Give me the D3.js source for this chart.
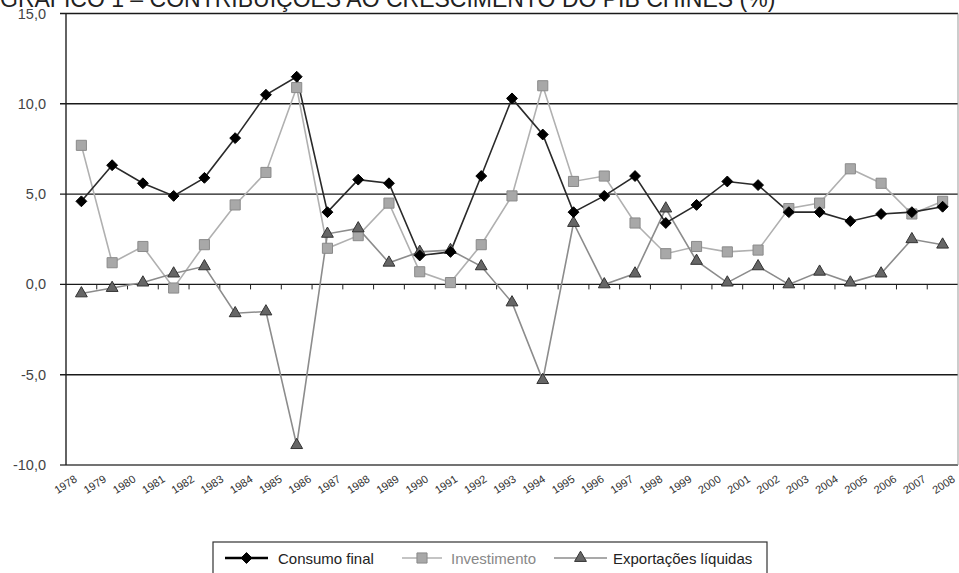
<!DOCTYPE html>
<html>
<head>
<meta charset="utf-8">
<script src="https://cdn.jsdelivr.net/npm/d3@7"></script>
<style>
  body { margin: 0; background: #fff; }
  svg { font-family: "Liberation Sans", Arial, sans-serif; }
</style>
</head>
<body>
<div id="chart"></div>
<script>
// data years (points) and the printed tick labels (the original axis carries 31 labels)
const years = d3.range(1978, 2007);
const tickYears = d3.range(1978, 2009);
const yTicks = [15, 10, 5, 0, -5, -10];

const consumo = [4.6, 6.6, 5.6, 4.9, 5.9, 8.1, 10.5, 11.5, 4.0, 5.8, 5.6, 1.6, 1.8, 6.0, 10.3, 8.3,
  4.0, 4.9, 6.0, 3.4, 4.4, 5.7, 5.5, 4.0, 4.0, 3.5, 3.9, 4.0, 4.3];
const investimento = [7.7, 1.2, 2.1, -0.2, 2.2, 4.4, 6.2, 10.9, 2.0, 2.7, 4.5, 0.7, 0.1, 2.2, 4.9, 11.0,
  5.7, 6.0, 3.4, 1.7, 2.1, 1.8, 1.9, 4.2, 4.5, 6.4, 5.6, 3.9, 4.6];
const exportacoes = [-0.5, -0.2, 0.1, 0.6, 1.0, -1.6, -1.5, -8.9, 2.8, 3.1, 1.2, 1.8, 1.9, 1.0, -1.0, -5.3,
  3.4, 0.0, 0.6, 4.2, 1.3, 0.1, 1.0, 0.0, 0.7, 0.1, 0.6, 2.5, 2.2];

const series = [
  { name: 'Consumo final', values: consumo, line: '#2a2a2a', fill: '#000', stroke: '#000', symbol: d3.symbolDiamond2, size: 75, text: '#222' },
  { name: 'Investimento', values: investimento, line: '#b0b0b0', fill: '#a8a8a8', stroke: '#8a8a8a', symbol: d3.symbolSquare2, size: 130, text: '#888' },
  { name: 'Exportações líquidas', values: exportacoes, line: '#8c8c8c', fill: '#666', stroke: '#333', symbol: d3.symbolTriangle2, size: 100, text: '#222' }
];

const W = 959, H = 573;
const plotLeft = 66, plotRight = 958, plotTop = 13.5, plotBottom = 465;

const svg = d3.select('#chart').append('svg')
  .attr('width', W).attr('height', H);

// title, cut at the top edge as in the scan
svg.append('text')
  .attr('x', 0).attr('y', 7)
  .attr('font-size', 23)
  .attr('fill', '#222')
  .text('GRÁFICO 1 – CONTRIBUIÇÕES AO CRESCIMENTO DO PIB CHINÊS (%)');

const x = d3.scaleBand().domain(years).range([plotLeft, plotRight]);
const xLab = d3.scalePoint().domain(tickYears).range([78, 956]);
const y = d3.scaleLinear().domain([-10, 15]).range([plotBottom, plotTop]);

// horizontal grid lines
svg.selectAll('.grid')
  .data(yTicks)
  .enter().append('line')
  .attr('x1', plotLeft - 6).attr('x2', plotRight)
  .attr('y1', d => y(d)).attr('y2', d => y(d))
  .attr('stroke', d => d === -10 ? '#444' : '#1a1a1a')
  .attr('stroke-width', 1.4);

// left axis and right frame
svg.append('line')
  .attr('x1', plotLeft).attr('x2', plotLeft)
  .attr('y1', y(15)).attr('y2', y(-10))
  .attr('stroke', '#222').attr('stroke-width', 1.4);
svg.append('line')
  .attr('x1', plotRight).attr('x2', plotRight)
  .attr('y1', y(15)).attr('y2', y(-10))
  .attr('stroke', '#999').attr('stroke-width', 1);

// y labels
svg.selectAll('.ylab')
  .data(yTicks)
  .enter().append('text')
  .attr('x', 46)
  .attr('y', d => y(d) + 5)
  .attr('text-anchor', 'end')
  .attr('font-size', 14.5)
  .attr('fill', '#444')
  .text(d => d3.format('.1f')(d).replace('.', ',').replace('−', '-'));

// category ticks on the zero line
svg.selectAll('.xtick')
  .data(years.slice(1))
  .enter().append('line')
  .attr('x1', d => x(d)).attr('x2', d => x(d))
  .attr('y1', y(0)).attr('y2', y(0) + 5)
  .attr('stroke', '#222').attr('stroke-width', 1);

// rotated year labels
svg.selectAll('.xlab')
  .data(tickYears)
  .enter().append('text')
  .attr('transform', d => `translate(${xLab(d)},${plotBottom + 16}) rotate(-33)`)
  .attr('text-anchor', 'end')
  .attr('font-size', 11)
  .attr('fill', '#333')
  .text(d => d);

const line = d3.line()
  .x((d, i) => x(years[i]) + x.bandwidth() / 2)
  .y(d => y(d));

// draw Investimento first, then exports, then consumo on top
const order = [series[1], series[2], series[0]];
order.forEach(s => {
  svg.append('path')
    .datum(s.values)
    .attr('fill', 'none')
    .attr('stroke', s.line)
    .attr('stroke-width', 1.6)
    .attr('d', line);
});
order.forEach(s => {
  svg.selectAll(null)
    .data(s.values)
    .enter().append('path')
    .attr('transform', (d, i) => `translate(${x(years[i]) + x.bandwidth() / 2},${y(d)})`)
    .attr('d', d3.symbol().type(s.symbol).size(s.size))
    .attr('fill', s.fill)
    .attr('stroke', s.stroke)
    .attr('stroke-width', 1);
});

// legend
const legend = svg.append('g');
legend.append('rect')
  .attr('x', 213).attr('y', 542)
  .attr('width', 554).attr('height', 40)
  .attr('fill', '#fff')
  .attr('stroke', '#333').attr('stroke-width', 1.2);

const legendPos = [
  { x1: 225, x2: 268, tx: 278 },
  { x1: 402, x2: 442, tx: 451 },
  { x1: 554, x2: 607, tx: 613 }
];
series.forEach((s, i) => {
  const p = legendPos[i];
  const ly = 558;
  legend.append('line')
    .attr('x1', p.x1).attr('x2', p.x2)
    .attr('y1', ly).attr('y2', ly)
    .attr('stroke', i === 0 ? '#000' : s.line)
    .attr('stroke-width', i === 0 ? 2.5 : 1.6);
  legend.append('path')
    .attr('transform', `translate(${(p.x1 + p.x2) / 2},${ly})`)
    .attr('d', d3.symbol().type(s.symbol).size(s.size))
    .attr('fill', s.fill)
    .attr('stroke', s.stroke);
  legend.append('text')
    .attr('x', p.tx).attr('y', ly + 6)
    .attr('font-size', 15)
    .attr('fill', s.text)
    .text(s.name);
});
</script>
</body>
</html>
